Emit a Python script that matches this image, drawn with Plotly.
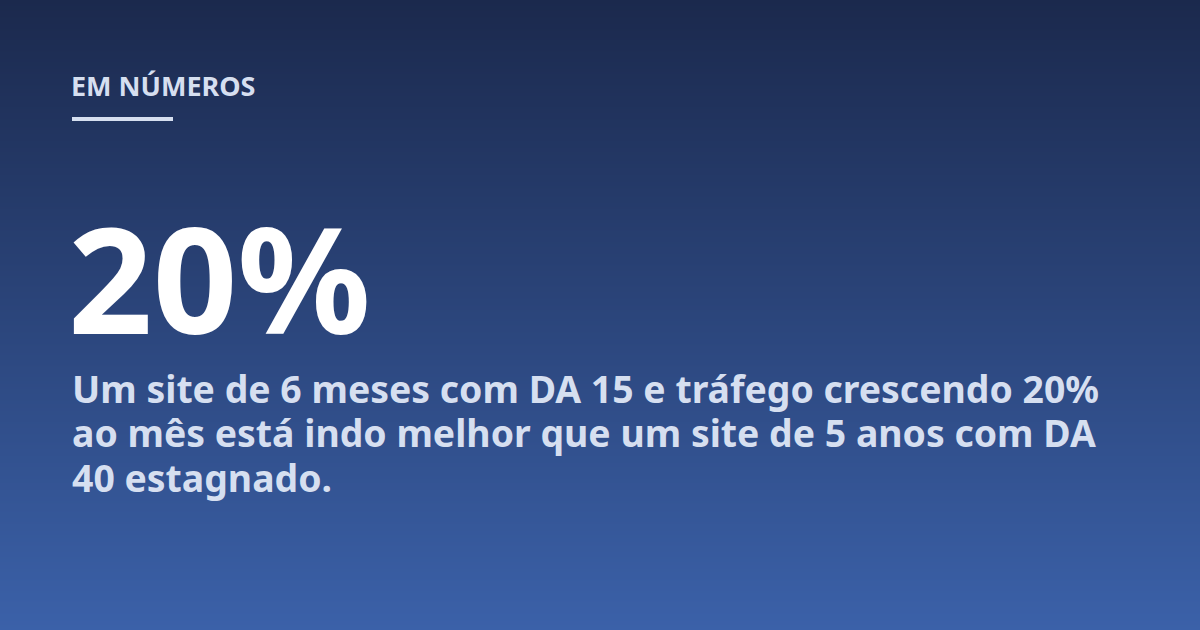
import plotly.graph_objects as go

# texto do cartão
kicker = "EM NÚMEROS"
big_number = "20%"
body_lines = [
    "Um site de 6 meses com DA 15 e tráfego crescendo 20%",
    "ao mês está indo melhor que um site de 5 anos com DA",
    "40 estagnado.",
]

# gradiente do fundo (cima -> baixo)
bg_top = "#1b294d"
bg_bottom = "#3b61a9"

W, H = 1200, 630
FONT = "Noto Sans"
light = "#d6dff0"


def py(v):
    # pixel (de cima) -> paper
    return 1 - v / H


fig = go.Figure()

# fundo em gradiente via heatmap suavizado
fig.add_trace(go.Heatmap(
    x=[0, 1], y=[0, 1],
    z=[[0, 0], [1, 1]],
    zsmooth="best",
    colorscale=[[0, bg_bottom], [1, bg_top]],
    showscale=False,
    hoverinfo="skip",
))

fig.add_annotation(
    x=69 / W, y=py(86), xref="paper", yref="paper",
    xanchor="left", yanchor="middle",
    text=f"<b>{kicker}</b>", showarrow=False,
    font=dict(family=FONT, size=27, color=light),
)

# barrinha embaixo do título
fig.add_shape(
    type="rect", xref="paper", yref="paper",
    x0=72 / W, x1=173 / W, y0=py(121), y1=py(117),
    fillcolor=light, line_width=0,
)

fig.add_annotation(
    x=66 / W, y=py(276), xref="paper", yref="paper",
    xanchor="left", yanchor="middle",
    text=f"<b>{big_number}</b>", showarrow=False,
    font=dict(family=FONT, size=148, color="#ffffff"),
)

# uma anotação por linha (espaçamento igual ao do original)
for i, line in enumerate(body_lines):
    fig.add_annotation(
        x=70 / W, y=py(388 + 44.5 * i), xref="paper", yref="paper",
        xanchor="left", yanchor="middle",
        text=f"<b>{line}</b>", showarrow=False,
        font=dict(family=FONT, size=37.4, color=light),
    )

fig.update_xaxes(visible=False, range=[0, 1], fixedrange=True)
fig.update_yaxes(visible=False, range=[0, 1], fixedrange=True)

fig.update_layout(
    width=W, height=H,
    margin=dict(l=0, r=0, t=0, b=0),
    paper_bgcolor=bg_top, plot_bgcolor=bg_top,
    showlegend=False,
)

fig.write_html(
    "out.html",
    config={"displayModeBar": False},
    post_script="document.body.style.margin='0';",
)
